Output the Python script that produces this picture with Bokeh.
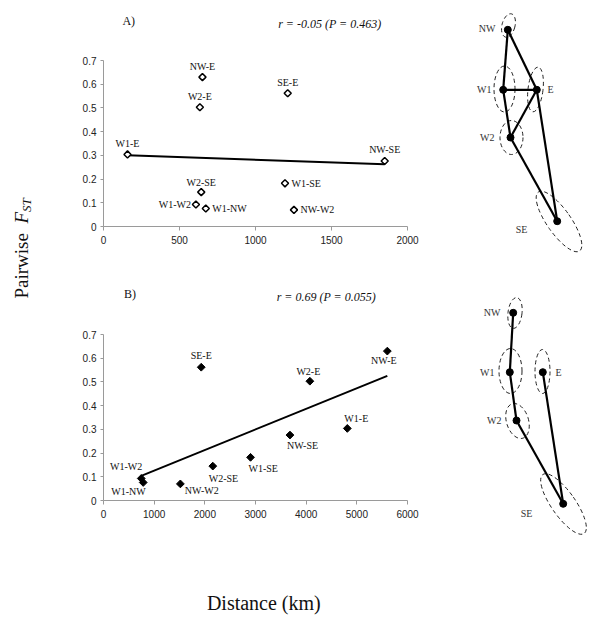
import numpy as np
from bokeh.plotting import figure
from bokeh.layouts import row, column
from bokeh.models import Range1d, FixedTicker, CustomJSTickFormatter, ColumnDataSource
from bokeh.core.properties import value
from bokeh.embed import file_html
from bokeh.resources import INLINE

# ---------------- data ----------------
pairs = ["NW-E", "W2-E", "SE-E", "W1-E", "W2-SE", "W1-W2", "W1-NW", "W1-SE", "NW-W2", "NW-SE"]
fst = [0.63, 0.503, 0.562, 0.304, 0.145, 0.093, 0.076, 0.182, 0.07, 0.276]
dist_a = [651, 634, 1212, 158, 643, 608, 673, 1194, 1253, 1850]
dist_b = [5602, 4073, 1929, 4812, 2157, 745, 784, 2902, 1517, 3680]

xticks_a = [0, 500, 1000, 1500, 2000]
xticks_b = [0, 1000, 2000, 3000, 4000, 5000, 6000]
yticks = [0, 0.1, 0.2, 0.3, 0.4, 0.5, 0.6, 0.7]

stat_a = "r = -0.05 (P = 0.463)"
stat_b = "r = 0.69 (P = 0.055)"

# label placement for point labels: (align, dx px, dy px)
place_a = {"NW-E": ("center", 0, -10.5), "W2-E": ("center", 0, -10.5), "SE-E": ("center", 0, -10.5),
           "W1-E": ("center", 0, -10.5), "NW-SE": ("center", 0, -11.5), "W2-SE": ("center", 0, -10),
           "W1-W2": ("right", -5, 0), "W1-NW": ("left", 6.5, 0), "W1-SE": ("left", 6.5, 0),
           "NW-W2": ("left", 6.5, 0)}
place_b = {"SE-E": ("center", 0, -12), "W1-W2": ("right", 1, -11.5), "W1-NW": ("right", 2.5, 9.5),
           "NW-W2": ("left", 4.5, 6.5), "W2-SE": ("left", -4, 12), "W1-SE": ("left", -2, 11),
           "NW-SE": ("left", -3, 10.5), "W2-E": ("center", -1.5, -10), "W1-E": ("center", 9, -10),
           "NW-E": ("center", -3.5, 9.5)}

# schematic maps (screen-like coordinates of populations)
nodes = ["NW", "W1", "E", "W2", "SE"]
node_a_x = [507.3, 502.7, 536.3, 510.0, 556.7]
node_a_y = [29.3, 89.3, 89.3, 137.0, 220.7]
edges_a = [("NW", "W1"), ("NW", "E"), ("W1", "E"), ("W1", "W2"), ("W2", "E"), ("W2", "SE"), ("E", "SE")]
node_b_x = [512.7, 509.3, 542.3, 516.0, 562.7]
node_b_y = [312.3, 371.7, 371.7, 420.0, 503.3]
edges_b = [("NW", "W1"), ("W1", "W2"), ("W2", "SE"), ("E", "SE")]

# ellipses: x, y, w, h, angle
ell_a = [(508, 25, 13, 24, -0.25), (504, 88.5, 21, 46, 0.0), (535, 89, 15, 45, -0.12),
         (511, 137, 23, 34, 0.0), (558.5, 221, 24, 72, 0.61)]
ell_b = [(514.5, 312.5, 14, 31, -0.12), (510, 370.5, 23, 45, 0.0), (542, 371, 15, 44, 0.0),
         (517, 420.5, 22, 36, 0.3), (563, 503.5, 24, 72, 0.61)]
# node label: (x, y, align)
lab_a = [(495, 28, "right"), (491, 89, "right"), (547, 89, "left"), (494, 137, "right"), (521, 229, "center")]
lab_b = [(500, 312, "right"), (494, 372, "right"), (555, 372, "left"), (501, 420, "right"), (526, 513, "center")]

SERIF = "Liberation Serif"
SANS = "Liberation Sans"
AXIS_GRAY = "#9a9a9a"
INK = "#111111"


def blank(w, h, xr, yr):
    p = figure(width=w, height=h, x_range=Range1d(*xr), y_range=Range1d(*yr),
               output_backend="svg", toolbar_location=None,
               x_axis_location=None, y_axis_location=None,
               min_border=0, min_border_left=0, min_border_right=0,
               min_border_top=0, min_border_bottom=0)
    p.outline_line_color = None
    p.background_fill_color = "white"
    p.border_fill_color = "white"
    p.xgrid.visible = False
    p.ygrid.visible = False
    return p


def scatter_panel(dist, xticks, place, hollow, borders, xmax):
    left, right, top, bottom = borders
    p = figure(width=402, height=166 + top + bottom, x_range=Range1d(0, xmax), y_range=Range1d(0, 0.7),
               output_backend="svg", toolbar_location=None,
               min_border_left=left, min_border_right=right, min_border_top=top, min_border_bottom=bottom)
    p.outline_line_color = None
    p.background_fill_color = "white"
    p.border_fill_color = "white"
    p.grid.visible = False
    fmt = CustomJSTickFormatter(code="return String(Number(tick.toFixed(3)));")
    p.xaxis.ticker = FixedTicker(ticks=xticks)
    p.yaxis.ticker = FixedTicker(ticks=yticks)
    for ax in p.axis:
        ax.formatter = fmt
        ax.axis_line_color = AXIS_GRAY
        ax.major_tick_line_color = AXIS_GRAY
        ax.minor_tick_line_color = None
        ax.major_tick_in = 0
        ax.major_label_text_font = SANS
        ax.major_label_text_font_size = "10px"
        ax.major_label_text_color = "#222222"
    p.xaxis.major_tick_out = 4
    p.xaxis.major_label_standoff = 5
    p.yaxis.major_tick_out = 3
    p.yaxis.major_label_standoff = 4

    # regression line
    k, b = np.polyfit(dist, fst, 1)
    xs = [min(dist), max(dist)]
    p.line(xs, [k * x + b for x in xs], line_color="black", line_width=2)

    src = ColumnDataSource(dict(
        x=dist, y=fst, t=pairs,
        al=[place[n][0] for n in pairs],
        dx=[place[n][1] for n in pairs],
        dy=[place[n][2] for n in pairs]))
    if hollow:
        p.scatter("x", "y", source=src, marker="square", angle=np.pi / 4, size=5,
                  fill_color="white", line_color="black", line_width=1.5)
    else:
        p.scatter("x", "y", source=src, marker="square", angle=np.pi / 4, size=5.5,
                  fill_color="black", line_color="black", line_width=1)
    p.text("x", "y", text="t", source=src, text_align="al", x_offset="dx", y_offset="dy",
           text_baseline="middle", text_font=value(SERIF), text_font_size="10px", text_color=INK)
    return p


def txt(p, x, y, s, size="12px", style="normal", align="left", angle=0.0):
    p.text([x], [y], text=[s], angle=angle, text_font=value(SERIF), text_font_size=size,
           text_font_style=style, text_baseline="middle", text_align=align, text_color=INK)


# ---------------- headers ----------------
headA = blank(402, 52, (58, 460), (-52, 0))
txt(headA, 83, -20, "A)")
txt(headA, 289, -23, stat_a, style="italic")

scatA = scatter_panel(dist_a, xticks_a, place_a, True, (42, 53, 8, 44), 2000)

headB = blank(402, 56, (58, 460), (-326, -270))
txt(headB, 85, -293, "B)")
txt(headB, 287, -296, stat_b, style="italic")

scatB = scatter_panel(dist_b, xticks_b, place_b, False, (45, 51, 8, 40), 6000)

xlab = blank(402, 87, (58, 460), (-627, -540))
txt(xlab, 270, -602, "Distance (km)", size="20px", align="center")

# ---------------- y title ----------------
ylab = blank(58, 627, (0, 58), (-627, 0))
txt(ylab, 21, -298, "Pairwise", size="19px", angle=np.pi / 2)
txt(ylab, 21, -223, "F", size="19px", style="italic", angle=np.pi / 2)
txt(ylab, 26, -211.5, "ST", size="13px", style="italic", angle=np.pi / 2)

# ---------------- schematic maps ----------------
diag = blank(140, 627, (460, 600), (-627, 0))


def draw_map(p, nx, ny, edges, ells, labs):
    idx = {n: i for i, n in enumerate(nodes)}
    for e in ells:
        p.ellipse(x=[e[0]], y=[-e[1]], width=[e[2]], height=[e[3]], angle=[e[4]],
                  fill_color=None, line_color="#222222", line_dash="4 3", line_width=1)
    xs = [[nx[idx[a]], nx[idx[b]]] for a, b in edges]
    ys = [[-ny[idx[a]], -ny[idx[b]]] for a, b in edges]
    p.multi_line(xs, ys, line_color="black", line_width=2.2)
    p.scatter(nx, [-v for v in ny], marker="circle", size=7, fill_color="black", line_color="black")
    for (x, y, al), n in zip(labs, nodes):
        p.text([x], [-y], text=[n], text_font=value(SERIF), text_font_size="10px",
               text_baseline="middle", text_align=al, text_color="#333333")


draw_map(diag, node_a_x, node_a_y, edges_a, ell_a, lab_a)
draw_map(diag, node_b_x, node_b_y, edges_b, ell_b, lab_b)

layout = row(ylab, column(headA, scatA, headB, scatB, xlab), diag)

open("out.html", "w").write(file_html(layout, INLINE))
